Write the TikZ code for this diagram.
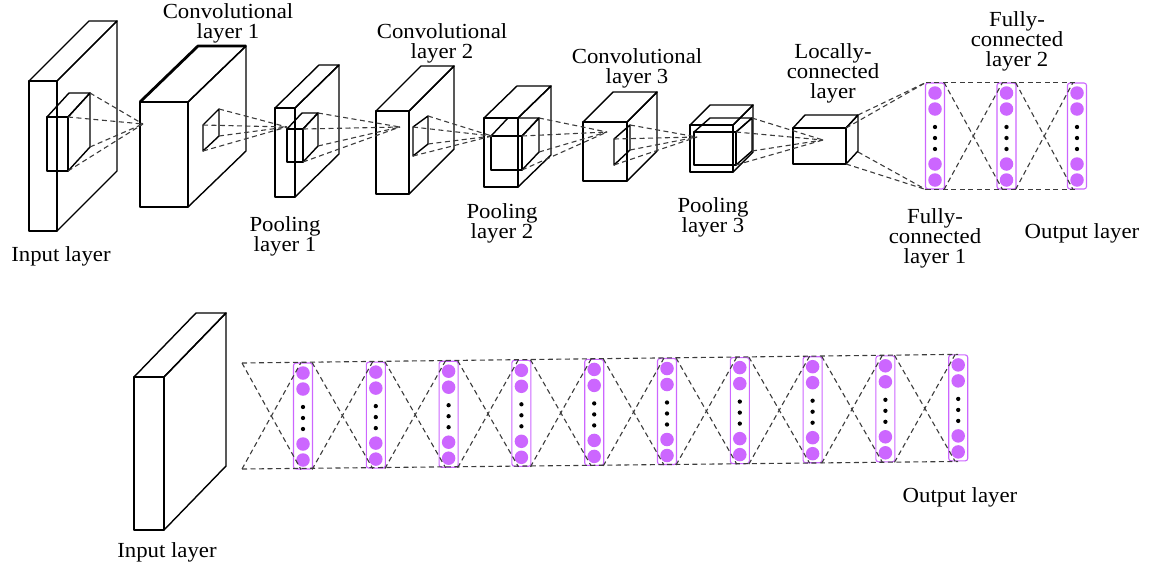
\documentclass[tikz,border=0pt]{standalone}
\usepackage{fontspec}
\setmainfont{Liberation Serif}[FakeStretch=1.06]
\definecolor{vio}{RGB}{204,102,255}
\definecolor{dgray}{RGB}{60,60,60}
\tikzset{
  boxline/.style={line width=1.4pt, line join=round},
  dl/.style={draw=dgray, dash pattern=on 5pt off 3.5pt, line width=1.1pt},
  lbl/.style={font=\fontsize{21.5}{20}\selectfont, align=center, inner sep=0pt},
  col/.style={draw=vio, line width=1.1pt, rounded corners=2.5pt, minimum width=19pt, minimum height=106pt, inner sep=0pt},
  neu/.style={circle, fill=vio, minimum size=13.5pt, inner sep=0pt},
  blk/.style={circle, fill=black, minimum size=4.3pt, inner sep=0pt}
}
% cuboid: x1,y1,x2,y2 (front face), dx, dy (depth offset, up-right)
\newcommand{\cub}[6]{%
  \draw[boxline] (#1,#2) -- (#1+#5,#2-#6) -- (#3+#5,#2-#6) -- (#3,#2) -- cycle;
  \draw[boxline] (#3,#2) -- (#3+#5,#2-#6) -- (#3+#5,#4-#6) -- (#3,#4) -- cycle;
  \draw[boxline] (#1,#2) rectangle (#3,#4);}
% column of neurons: name, x, ytop
\newcommand{\fccol}[3]{%
  \node[col] (#1) at (#2,#3+53) {};
  \foreach \dy in {10,26,81,97} \node[neu] (#1-n\dy) at (#2,#3+\dy) {};
  \foreach \dy in {44,55,66} \node[blk] (#1-d\dy) at (#2,#3+\dy) {};}
\begin{document}
\begin{tikzpicture}[x=1pt,y=-1pt]
\useasboundingbox (0,0) rectangle (1150,568);

% ---------------- top row ----------------
% input layer
\cub{29}{81}{57}{231}{60}{60}
\cub{47}{117}{68}{171}{22}{24}
% conv 1
\cub{140}{102}{188}{207}{58}{56}
\draw[line width=2.8pt] (140,207)--(188,207);
\draw[line width=2.8pt, line join=round] (140,102)--(188,102);
\draw[line width=2.8pt, line join=round] (140,102)--(198,46)--(246,46);
\draw[boxline] (203,125)--(219,109)--(219,136)--(203,151)--cycle;
% pool 1
\cub{275}{108}{295}{197}{44}{43}
\cub{287}{129}{303}{162}{15}{16}
% conv 2
\cub{376}{111}{409}{194}{45}{45}
\draw[boxline] (413,127)--(428,116)--(428,144)--(413,156)--cycle;
% pool 2
\cub{484}{118}{518}{187}{33}{32}
\cub{491}{136}{522}{170}{17}{18}
% conv 3
\cub{583}{122}{627}{181}{30}{30}
\draw[boxline] (614,139)--(630,125)--(630,150)--(614,165)--cycle;
% pool 3
\cub{690}{125}{733}{172}{20}{20}
\cub{694}{132}{736}{165}{16}{14}
% locally connected
\cub{793}{128}{846}{164}{12}{13}

% convergence points
\coordinate (t1) at (143,124);
\coordinate (t2) at (287,127);
\coordinate (t3) at (400,127);
\coordinate (t4) at (492,136);
\coordinate (t5) at (607,132);
\coordinate (t6) at (697,137);
\coordinate (t7) at (823,140);
\foreach \p in {(68,117),(90,93),(90,147),(68,171)} \draw[dl] \p -- (t1);
\foreach \p in {(219,109),(219,136),(203,125),(203,151)} \draw[dl] \p -- (t2);
\foreach \p in {(303,129),(318,113),(318,146),(303,162)} \draw[dl] \p -- (t3);
\foreach \p in {(428,116),(428,144),(413,127),(413,156)} \draw[dl] \p -- (t4);
\foreach \p in {(522,136),(539,118),(539,152),(522,170)} \draw[dl] \p -- (t5);
\foreach \p in {(630,125),(630,150),(614,139),(614,165)} \draw[dl] \p -- (t6);
\foreach \p in {(736,132),(752,118),(752,151),(736,165)} \draw[dl] \p -- (t7);

% fully connected columns
\fccol{fa}{935}{83}
\fccol{fb}{1006.5}{83}
\fccol{fc}{1077}{83}
\foreach \p in {(846,128),(858,115)} \draw[dl] \p -- ([xshift=1pt]fa.north west);
\foreach \p in {(846,164),(858,152)} \draw[dl] \p -- ([xshift=1pt]fa.south west);
\draw[dl] ([xshift=1pt]fa.north west) -- (fc.north);
\draw[dl] ([xshift=1pt]fa.south west) -- (fc.south);
\draw[dl] ([xshift=-1pt]fa.north east) -- ([xshift=-4pt]fb.south);
\draw[dl] ([xshift=-1pt]fa.south east) -- ([xshift=-4pt]fb.north);
\draw[dl] ([xshift=-1pt]fb.north east) -- ([xshift=-4pt]fc.south);
\draw[dl] ([xshift=-1pt]fb.south east) -- ([xshift=-4pt]fc.north);

% labels top row
\node[lbl] (l1) at (61,256) {Input layer};
\node[lbl] (l2) at (228,23) {Convolutional\\layer 1};
\node[lbl] (l3) at (285,236) {Pooling\\layer 1};
\node[lbl] (l4) at (442,43) {Convolutional\\layer 2};
\node[lbl] (l5) at (502,223) {Pooling\\layer 2};
\node[lbl] (l6) at (637,68) {Convolutional\\layer 3};
\node[lbl] (l7) at (713,217) {Pooling\\layer 3};
\node[lbl] (l8) at (833,73) {Locally-\\connected\\layer};
\node[lbl] (l9) at (1017,41) {Fully-\\connected\\layer 2};
\node[lbl] (l10) at (935,238) {Fully-\\connected\\layer 1};
\node[lbl] (l11) at (1082,233) {Output layer};

% ---------------- bottom row ----------------
\cub{134}{377}{164}{530}{62}{64}
\foreach \i in {1,...,10} {
  \pgfmathsetmacro{\cx}{303+72.8*(\i-1)}
  \pgfmathsetmacro{\ct}{363-0.9*(\i-1)}
  \fccol{b\i}{\cx}{\ct}
}
\coordinate (bt) at (242,363);
\coordinate (bb) at (242,469);
\draw[dl] (bt) -- (b10.north);
\draw[dl] (bb) -- (b10.south);
\draw[dl] (bt) -- ([xshift=-2pt]b1.south);
\draw[dl] (bb) -- ([xshift=-2pt]b1.north);
\foreach \i [evaluate=\i as \j using int(\i+1)] in {1,...,9} {
  \draw[dl] ([xshift=-1pt]b\i.north east) -- ([xshift=-3pt]b\j.south);
  \draw[dl] ([xshift=-1pt]b\i.south east) -- ([xshift=-3pt]b\j.north);
}
\node[lbl] (l12) at (167,552) {Input layer};
\node[lbl] (l13) at (960,497) {Output layer};
\end{tikzpicture}
\end{document}
